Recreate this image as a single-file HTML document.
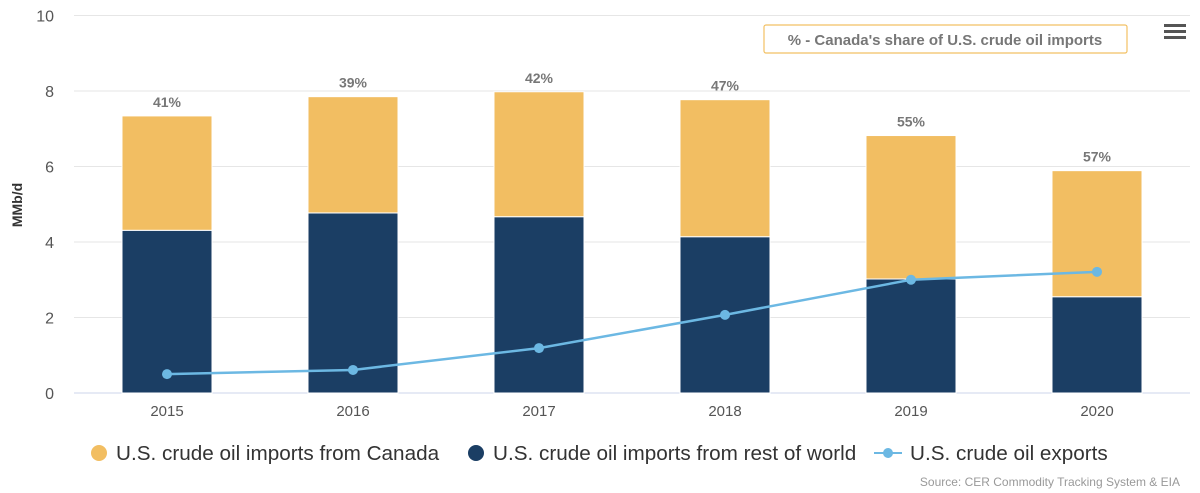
<!DOCTYPE html>
<html><head><meta charset="utf-8"><style>
body{margin:0;background:#fff;font-family:"Liberation Sans",sans-serif}
svg{display:block}
</style></head><body>
<svg id="c" width="1200" height="493">
<text x="22" y="205" transform="rotate(-90 22 205)" text-anchor="middle" font-size="14" font-weight="bold" fill="#333">MMb/d</text>
<g id="grid"></g><g id="bars"></g><g id="line"></g><g id="labels"></g>
<rect x="764" y="25" width="363" height="28" fill="#fff" stroke="#f2c063" stroke-width="1.2" rx="2"/>
<text x="945" y="45" text-anchor="middle" font-size="15" font-weight="bold" fill="#777">% - Canada's share of U.S. crude oil imports</text>
<g><rect x="1164" y="24" width="22" height="3" fill="#555"/><rect x="1164" y="30" width="22" height="3" fill="#555"/><rect x="1164" y="36" width="22" height="3" fill="#555"/></g>
<g font-size="20.7" fill="#333">
<g><circle cx="99" cy="453" r="8" fill="#f2be62"/><text x="116" y="460">U.S. crude oil imports from Canada</text></g>
<g><circle cx="476" cy="453" r="8" fill="#1b3e64"/><text x="493" y="460">U.S. crude oil imports from rest of world</text></g>
<g><line x1="874" y1="453" x2="902" y2="453" stroke="#6cb8e3" stroke-width="2"/><circle cx="888" cy="453" r="5" fill="#6cb8e3"/><text x="910" y="460">U.S. crude oil exports</text></g>
</g>
<text x="1180" y="486" text-anchor="end" font-size="12" fill="#999">Source: CER Commodity Tracking System &amp; EIA</text>
</svg>
<script>
const categories=["2015","2016","2017","2018","2019","2020"];
const canada=[3.03,3.08,3.31,3.63,3.80,3.34];
const restOfWorld=[4.31,4.77,4.67,4.14,3.02,2.55];
const exportsVals=[0.50,0.61,1.19,2.07,3.00,3.21];
const shareLabels=["41%","39%","42%","47%","55%","57%"];
const yTicks=[0,2,4,6,8,10];
const NS="http://www.w3.org/2000/svg";
const left=74,right=1190,y0=393,yTop=15.5;
const bw=(right-left)/categories.length;
const y=v=>y0-(y0-yTop)*v/10;
const xc=i=>left+bw*(i+0.5);
function mk(tag,attrs,parent,txt){const e=document.createElementNS(NS,tag);for(const k in attrs)e.setAttribute(k,attrs[k]);if(txt!==undefined)e.textContent=txt;document.getElementById(parent).appendChild(e);return e;}
yTicks.forEach(t=>{
 const l=mk('line',{x1:left,x2:right,y1:y(t),y2:y(t),stroke:t===0?'#ccd6eb':'#e6e6e6','stroke-width':1},'grid');
 
 
 const tx=mk('text',{x:54,y:y(t)+6,'text-anchor':'end','font-size':16,fill:'#555'},'grid',t);
 
 
});
categories.forEach((c,i)=>{
 const x=xc(i)-45;
 const r=mk('rect',{x:x,width:90,y:y(restOfWorld[i]),height:y0-y(restOfWorld[i]),fill:'#1b3e64',stroke:'#fff','stroke-width':1},'bars');
 
 
 const tot=restOfWorld[i]+canada[i];
 const b=mk('rect',{x:x,width:90,y:y(tot),height:y(restOfWorld[i])-y(tot),fill:'#f2be62',stroke:'#fff','stroke-width':1},'bars');
 
 
 const s=mk('text',{x:xc(i),y:y(tot)-9,'text-anchor':'middle','font-size':14,'font-weight':'bold',fill:'#777'},'labels',shareLabels[i]);
 
 
 const xt=mk('text',{x:xc(i),y:y0+23,'text-anchor':'middle','font-size':15,fill:'#555'},'labels',c);
 
 
});
const p=mk('polyline',{points:exportsVals.map((v,i)=>xc(i)+','+y(v)).join(' '),fill:'none',stroke:'#6cb8e3','stroke-width':2.5},'line');


exportsVals.forEach((v,i)=>{
 const d=mk('circle',{cx:xc(i),cy:y(v),r:5,fill:'#6cb8e3'},'line');
 
 
});
</script>
</body></html>
